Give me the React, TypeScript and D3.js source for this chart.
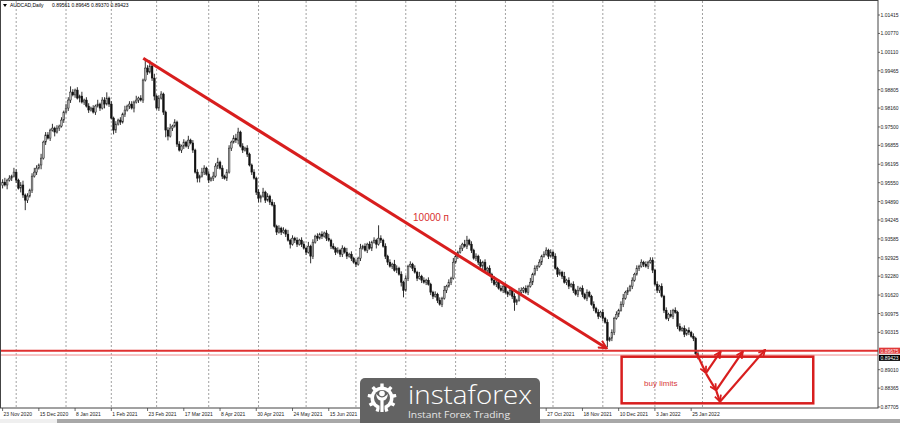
import React from "react";
import * as d3 from "d3";

// ---------- data ----------
const symbolTitle = "AUDCAD,Daily";
const lastBarOHLC = ["0.89561", "0.89645", "0.89370", "0.89423"];
const firstOpen = 0.9545;
// daily closes, 23 Nov 2020 .. 28 Jan 2022 (bar 0..307)
const closes = [
  0.9557, 0.9547, 0.9564, 0.9571, 0.9578, 0.9592, 0.9564, 0.9536, 0.9547, 0.9512,
  0.9494, 0.9508, 0.9529, 0.9578, 0.9592, 0.9606, 0.9617, 0.9641, 0.9697, 0.9722,
  0.9711, 0.9739, 0.9746, 0.9732, 0.9746, 0.9753, 0.9774, 0.9802, 0.9816, 0.9844,
  0.9872, 0.9862, 0.9879, 0.9851, 0.9858, 0.9837, 0.9844, 0.9823, 0.9809, 0.9816,
  0.9802, 0.9823, 0.983, 0.9816, 0.9844, 0.983, 0.9851, 0.983, 0.9781, 0.9739,
  0.976, 0.9774, 0.9767, 0.9795, 0.9809, 0.9823, 0.983, 0.9816, 0.9837, 0.9844,
  0.9851, 0.9844, 0.9914, 0.9956, 0.9942, 0.9963, 0.9921, 0.9858, 0.9816, 0.9851,
  0.9865, 0.9802, 0.9739, 0.9718, 0.9746, 0.9753, 0.9767, 0.969, 0.9669, 0.9683,
  0.9697, 0.9683, 0.9704, 0.9694, 0.9669, 0.9592, 0.9571, 0.9578, 0.9592, 0.9606,
  0.9585, 0.9564, 0.9571, 0.9578, 0.9613, 0.9627, 0.9606, 0.9578, 0.9571, 0.9592,
  0.9676, 0.9697, 0.9711, 0.9704, 0.9732, 0.9683, 0.9669, 0.9676, 0.9655, 0.9617,
  0.9592, 0.9571, 0.9522, 0.9501, 0.9508, 0.9522, 0.9494, 0.9508, 0.9487, 0.9477,
  0.9403, 0.9382, 0.9396, 0.9382, 0.9389, 0.9375, 0.9354, 0.934, 0.9361, 0.9354,
  0.934, 0.9354, 0.934, 0.9326, 0.9312, 0.9333, 0.9298, 0.9347, 0.9368, 0.9361,
  0.9375, 0.9368, 0.9379, 0.9361, 0.9354, 0.9333, 0.9326, 0.9312, 0.9319, 0.9305,
  0.9326, 0.9312, 0.9298, 0.9305, 0.9291, 0.9277, 0.927, 0.9291, 0.9326, 0.9333,
  0.9319, 0.934, 0.9326, 0.9347, 0.9354, 0.934, 0.9361, 0.9354, 0.9333, 0.9298,
  0.9277, 0.9263, 0.927, 0.9249, 0.9256, 0.9235, 0.9207, 0.9179, 0.9221, 0.9263,
  0.927, 0.9256, 0.9242, 0.9221, 0.9228, 0.9214, 0.9207, 0.9214, 0.92, 0.9172,
  0.9158, 0.9165, 0.9144, 0.913, 0.9151, 0.9179, 0.9193, 0.9207, 0.9221, 0.9277,
  0.9298, 0.9312, 0.9326, 0.934, 0.9333, 0.9354, 0.934, 0.9319, 0.9291, 0.9298,
  0.9277, 0.9263, 0.9277, 0.9249, 0.9256, 0.9235, 0.9214, 0.92, 0.9207, 0.9186,
  0.9179, 0.9193, 0.9172, 0.9165, 0.9179, 0.9158, 0.9137, 0.9144, 0.9172, 0.9179,
  0.9186, 0.9172, 0.9193, 0.9207, 0.9235, 0.9256, 0.9263, 0.9277, 0.9298, 0.9305,
  0.9319, 0.9298, 0.9312, 0.9298, 0.9256, 0.9235, 0.9242, 0.9228, 0.9207, 0.9214,
  0.9193, 0.92, 0.9179, 0.9165, 0.9179, 0.9186, 0.9165, 0.9151, 0.9172, 0.9158,
  0.913, 0.9116, 0.9102, 0.9088, 0.9102, 0.9081, 0.9067, 0.9004, 0.9011, 0.9032,
  0.9081, 0.9095, 0.9109, 0.913, 0.9151, 0.9172, 0.9179, 0.9193, 0.9214, 0.9235,
  0.9256, 0.9263, 0.9277, 0.927, 0.9263, 0.9277, 0.9284, 0.9249, 0.92, 0.9179,
  0.9193, 0.9158, 0.9109, 0.9081, 0.9095, 0.9088, 0.9109, 0.9102, 0.9053, 0.9039,
  0.9046, 0.9025, 0.9039, 0.9032, 0.9018, 0.9011, 0.89561, 0.89423,
];
// wick sizes per bar in units of wickUnit
const upperWicks =
  "2312132123 1212321312 2131212132 4212131221 2131224121 2121312213 1217241312 2112312121 " +
  "2131212132 1213231212 2123312121 1212131212 2121213121 2122131212 1212312121 2131212131 " +
  "2121219212 1213212121 2121312121 1212131213 2121331212 1212121312 2121212132 1213121212 " +
  "2121212131 2121312121 1212121212 1212312121 2121212212 1212131212 12121212";
const lowerWicks =
  "2131212132 7212121312 1213121212 2121312121 1212131213 2121212131 2121212312 1253121212 " +
  "2121213312 1212121212 1212312121 2123312121 1212121312 2121215212 1212121212 2121212121 " +
  "1212131212 2121213512 1212121212 2121212121 1212121212 2121212121 1212126212 2121212121 " +
  "1212121212 2121212121 1212121512 2121212121 1212121212 2121212121 12121211";
const wickUnit = 0.0005;

const priceTicks = [
  1.01415, 1.0077, 1.0011, 0.99465, 0.98805, 0.9816, 0.975, 0.96855, 0.96195, 0.9555,
  0.9489, 0.94245, 0.93585, 0.92925, 0.9228, 0.9162, 0.90975, 0.90315, 0.8901, 0.88365,
  0.87705,
];
// visible date labels (those under the watermark are hidden in the reference)
const dateLabelBars = [0, 16, 32, 48, 64, 80, 96, 112, 128, 144, 240, 256, 272, 288, 304];
const dateLabels = [
  "23 Nov 2020", "15 Dec 2020", "8 Jan 2021", "1 Feb 2021", "23 Feb 2021", "17 Mar 2021",
  "8 Apr 2021", "30 Apr 2021", "24 May 2021", "15 Jun 2021",
  "27 Oct 2021", "18 Nov 2021", "10 Dec 2021", "3 Jan 2022", "25 Jan 2022",
];
const monthStartBars = [6, 28, 48, 68, 91, 113, 134, 156, 178, 200, 222, 243, 265, 288, 309];

const levelPrice = 0.89675;
const levelPrice2 = 0.89523;
const bidPrice = 0.89423;

// annotations in (bar, price)
const trendLine: [number, number][] = [[62.1, 0.99901], [266.7, 0.89757]];
const trendLabel = { bar: 181.2, price: 0.9421, text: "10000 п" };
const zigzagSegments: [[number, number], [number, number]][] = [
  [[306.4, 0.89583], [310.5, 0.88894]],
  [[310.5, 0.88894], [317.0, 0.89638]],
  [[310.6, 0.88874], [315.0, 0.88288]],
  [[315.0, 0.88288], [326.8, 0.89638]],
  [[315.1, 0.88268], [316.7, 0.8789]],
  [[316.7, 0.8789], [336.6, 0.89698]],
];
const buyZone = { bar0: 273.3, bar1: 357.9, pTop: 0.89464, pBot: 0.87834 };
const buyLabel = { bar: 283.2, price: 0.88439, text: "buy limits" };

// ---------- layout ----------
const W = 900;
const H = 423;
const plotRight = 878;
const plotTop = 1;
const plotBottom = 408;

const x = d3.scaleLinear().domain([0, 304]).range([2.6, 2.6 + 304 * 2.265]);
const y = d3.scaleLinear().domain([0.8767, 1.01905]).range([plotBottom, plotTop]);

const FONT = "'Liberation Sans', Arial, sans-serif";
const RED = "#d81e1e";

function parseWicks(s: string, n: number) {
  const d = s.replace(/\s+/g, "");
  return d3.range(n).map((i) => (i < d.length ? +d[i] : 1));
}

function gearPath(cx: number, cy: number, rOut: number, rIn: number, teeth: number) {
  const pts: string[] = [];
  const step = (Math.PI * 2) / teeth;
  for (let k = 0; k < teeth; k++) {
    const a = k * step - Math.PI / 2;
    const angs = [a - step * 0.5, a - step * 0.22, a - step * 0.16, a + step * 0.16, a + step * 0.22];
    const rs = [rIn, rIn, rOut, rOut, rIn];
    angs.forEach((ang, j) => {
      pts.push(`${(cx + rs[j] * Math.cos(ang)).toFixed(2)},${(cy + rs[j] * Math.sin(ang)).toFixed(2)}`);
    });
  }
  return "M" + pts.join("L") + "Z";
}

export default function App() {
  const n = closes.length;
  const up = parseWicks(upperWicks, n);
  const lo = parseWicks(lowerWicks, n);
  const candles = closes.map((c, i) => {
    const o = i === 0 ? firstOpen : closes[i - 1];
    const hi = Math.max(o, c) + up[i] * wickUnit;
    const lw = Math.min(o, c) - lo[i] * wickUnit;
    return { i, o, c, hi, lw };
  });
  const bodyW = 1.7;

  const gx = 382;
  const gy = 398;

  return (
    <div>
      <style>{"body{margin:0;} svg{display:block;}"}</style>
      <svg width={W} height={H} viewBox={`0 0 ${W} ${H}`} style={{ background: "#fff" }}>
        <defs>
          <marker id="arrowBig" viewBox="0 0 10 10" refX="9" refY="5" markerWidth="10" markerHeight="10"
            markerUnits="userSpaceOnUse" orient="auto">
            <path d="M1,1 L9,5 L1,9" fill="none" stroke={RED} strokeWidth="2" />
          </marker>
          <marker id="arrowSmall" viewBox="0 0 10 10" refX="9" refY="5" markerWidth="8" markerHeight="8"
            markerUnits="userSpaceOnUse" orient="auto">
            <path d="M1,1 L9,5 L1,9" fill="none" stroke={RED} strokeWidth="2.2" />
          </marker>
        </defs>

        {/* vertical grid (month starts) */}
        {monthStartBars.map((b) => (
          <line key={"g" + b} x1={x(b)} x2={x(b)} y1={plotTop} y2={plotBottom}
            stroke="#8a8a8a" strokeWidth={0.8} strokeDasharray="2,2" />
        ))}

        {/* title */}
        <g fontFamily={FONT} fontSize={5} fill="#000">
          <path d="M3,4 L7,4 L5,7 Z" fill="#000" />
          <text x={10} y={7}>{symbolTitle}</text>
          {lastBarOHLC.map((t, k) => (
            <text key={t + k} x={52 + k * 19.5} y={7}>{t}</text>
          ))}
        </g>

        {/* candles */}
        <g>
          {candles.map((d) => {
            const cx = x(d.i);
            const bull = d.c >= d.o;
            const yTop = y(Math.max(d.o, d.c));
            const yBot = y(Math.min(d.o, d.c));
            return (
              <g key={"c" + d.i}>
                <line x1={cx} x2={cx} y1={y(d.hi)} y2={y(d.lw)} stroke="#1a1a1a" strokeWidth={0.9} />
                <rect x={cx - bodyW / 2} y={yTop} width={bodyW} height={Math.max(0.6, yBot - yTop)}
                  fill={bull ? "#b8b8b8" : "#111"} stroke={bull ? "#222" : "#111"} strokeWidth={0.5} />
              </g>
            );
          })}
        </g>

        {/* horizontal levels */}
        <line x1={0} x2={plotRight} y1={y(levelPrice)} y2={y(levelPrice)} stroke="#e03030" strokeWidth={2} />
        <line x1={0} x2={plotRight} y1={y(levelPrice2)} y2={y(levelPrice2)} stroke="#f08a8a" strokeWidth={1} />

        {/* trend line */}
        <line x1={x(trendLine[0][0])} y1={y(trendLine[0][1])} x2={x(trendLine[1][0])} y2={y(trendLine[1][1])}
          stroke={RED} strokeWidth={3} markerEnd="url(#arrowBig)" />
        <text x={x(trendLabel.bar)} y={y(trendLabel.price)} fontFamily={FONT} fontSize={10} fill="#d83030">
          {trendLabel.text}
        </text>

        {/* buy zone */}
        <rect x={x(buyZone.bar0)} y={y(buyZone.pTop)} width={x(buyZone.bar1) - x(buyZone.bar0)}
          height={y(buyZone.pBot) - y(buyZone.pTop)} fill="none" stroke={RED} strokeWidth={2.5} />
        <text x={x(buyLabel.bar)} y={y(buyLabel.price)} fontFamily={FONT} fontSize={8} fill="#d83a3a">
          {buyLabel.text}
        </text>
        {zigzagSegments.map((s, k) => (
          <line key={"z" + k} x1={x(s[0][0])} y1={y(s[0][1])} x2={x(s[1][0])} y2={y(s[1][1])}
            stroke={RED} strokeWidth={2.2} markerEnd="url(#arrowSmall)" />
        ))}

        {/* frame */}
        <rect x={0.5} y={0.5} width={plotRight - 0.5} height={plotBottom - 0.5} fill="none" stroke="#444" strokeWidth={1} />

        {/* right price axis */}
        <g fontFamily={FONT} fontSize={5} fill="#222">
          {priceTicks.map((p) => (
            <g key={"p" + p}>
              <line x1={plotRight} x2={plotRight + 2} y1={y(p)} y2={y(p)} stroke="#444" strokeWidth={0.8} />
              <text x={plotRight + 2.5} y={y(p)} dominantBaseline="central">{p.toFixed(5)}</text>
            </g>
          ))}
          <rect x={plotRight + 1} y={y(levelPrice) - 3} width={W - plotRight - 1} height={6} fill="#e03838" />
          <text x={plotRight + 2.5} y={y(levelPrice)} dominantBaseline="central" fill="#ffe8e8">{levelPrice.toFixed(5)}</text>
          <rect x={plotRight + 1} y={y(bidPrice) - 3} width={W - plotRight - 1} height={6} fill="#000" />
          <text x={plotRight + 2.5} y={y(bidPrice)} dominantBaseline="central" fill="#fff">{bidPrice.toFixed(5)}</text>
        </g>

        {/* bottom date axis */}
        <g fontFamily={FONT} fontSize={5} fill="#222">
          {dateLabelBars.map((b, k) => (
            <g key={"d" + b}>
              <line x1={x(b)} x2={x(b)} y1={plotBottom} y2={plotBottom + 3} stroke="#444" strokeWidth={0.8} />
              <text x={x(b) + 1} y={413.5} dominantBaseline="central">{dateLabels[k]}</text>
            </g>
          ))}
        </g>

        {/* window tab strip */}
        <rect x={0} y={419} width={W} height={4} fill="#a8a8a8" />
        <rect x={0} y={419} width={57} height={4} fill="#efefef" />

        {/* watermark */}
        <g>
          <rect x={360} y={378} width={180} height={50} rx={5} fill="#636363" />
          <path d={gearPath(gx, gy, 14.5, 11.5, 9)} fill="#ffffff" />
          <circle cx={gx} cy={gy} r={8} fill="#636363" />
          <rect x={gx - 2.5} y={gy + 6} width={5} height={9} fill="#636363" />
          <circle cx={gx} cy={gy - 4.5} r={2.8} fill="#ffffff" />
          <path d={`M${gx - 6},${gy - 4} Q${gx - 5},${gy + 2} ${gx - 1.6},${gy + 2.5} L${gx - 1.6},${gy + 14} L${gx + 1.6},${gy + 14} L${gx + 1.6},${gy + 2.5} Q${gx + 5},${gy + 2} ${gx + 6},${gy - 4} Q${gx + 2},${gy - 0.5} ${gx},${gy - 0.5} Q${gx - 2},${gy - 0.5} ${gx - 6},${gy - 4} Z`}
            fill="#ffffff" />
          <text x={408} y={404} fontFamily="'Open Sans', Lato, sans-serif" fontWeight={300} fontSize={26}
            fill="#ffffff" textLength={124} lengthAdjust="spacingAndGlyphs">instaforex</text>
          <text x={408} y={418} fontFamily="'Open Sans', Lato, sans-serif" fontSize={9.5}
            fill="#e6e6e6" textLength={102} lengthAdjust="spacingAndGlyphs">Instant Forex Trading</text>
        </g>
      </svg>
    </div>
  );
}
